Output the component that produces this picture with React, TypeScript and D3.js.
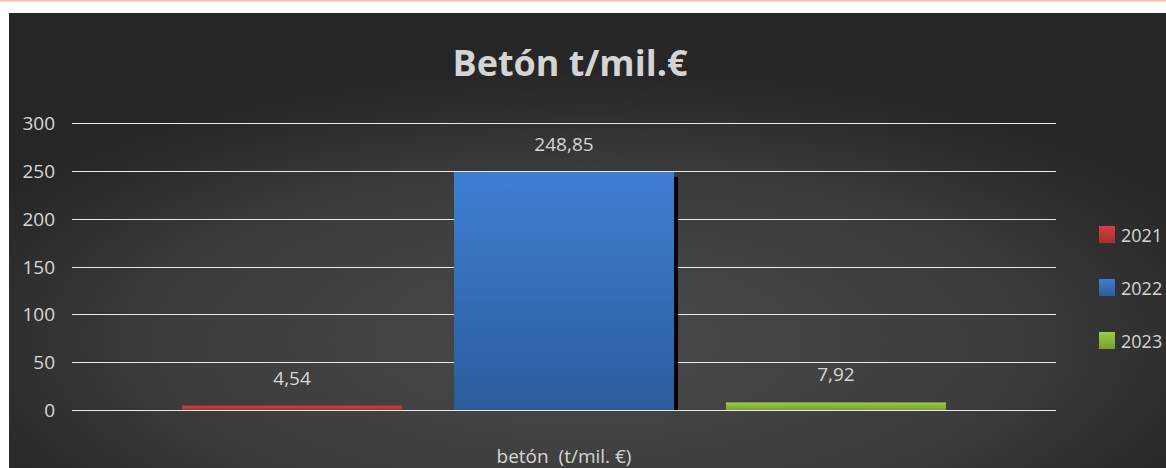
import React, { useRef, useEffect } from 'react'
import * as d3 from 'd3'

const categories = ['betón  (t/mil. €)']
const seriesNames = ['2021', '2022', '2023']
const seriesValues = [4.54, 248.85, 7.92]
const valueLabels = ['4,54', '248,85', '7,92']
const yTicks = [0, 50, 100, 150, 200, 250, 300]
const title = 'Betón t/mil.€'

const colors = [
  ['#d64040', '#a82e2e'],
  ['#3f7fd2', '#2b5c9c'],
  ['#9fcb45', '#77a02e'],
]

const FONT = "'Liberation Sans Narrow', 'Open Sans', 'Noto Sans', sans-serif"

export default function App() {
  const svgRef = useRef<SVGSVGElement>(null)
  const W = 1166
  const H = 468

  useEffect(() => {
    document.body.style.margin = '0'
    if (!svgRef.current) return
    const svg = d3.select(svgRef.current)
    svg.selectAll('*').remove()

    const defs = svg.append('defs')
    const bg = defs.append('radialGradient').attr('id', 'bg')
      .attr('cx', '0.5').attr('cy', '0.72').attr('r', '0.6')
    bg.append('stop').attr('offset', '0%').attr('stop-color', '#4a4a4a')
    bg.append('stop').attr('offset', '60%').attr('stop-color', '#3c3c3c')
    bg.append('stop').attr('offset', '100%').attr('stop-color', '#262626')

    colors.forEach((c, i) => {
      const g = defs.append('linearGradient').attr('id', `bar${i}`)
        .attr('x1', 0).attr('y1', 0).attr('x2', 0).attr('y2', 1)
      g.append('stop').attr('offset', '0%').attr('stop-color', c[0])
      g.append('stop').attr('offset', '100%').attr('stop-color', c[1])
    })

    svg.append('rect').attr('width', W).attr('height', H).attr('fill', '#ffffff')
    svg.append('rect').attr('width', W).attr('height', 1.5).attr('fill', '#f8c49c')
    svg.append('rect').attr('x', 9).attr('y', 13).attr('width', W - 9).attr('height', H - 13)
      .attr('fill', 'url(#bg)')

    const plot = { l: 72, r: 1056, t: 123, b: 410 }
    const y = d3.scaleLinear().domain([0, 300]).range([plot.b, plot.t])
    const x0 = d3.scaleBand().domain(categories).range([plot.l, plot.r]).paddingInner(0).paddingOuter(0.144)
    const x1 = d3.scaleBand().domain(seriesNames).range([0, x0.bandwidth()]).paddingInner(0.191)

    // title
    svg.append('text').attr('x', 570).attr('y', 76).attr('text-anchor', 'middle')
      .attr('font-family', FONT).attr('font-weight', 'bold').attr('font-size', 36)
      .attr('fill', '#d4d4d4').text(title)

    // grid
    svg.append('g').selectAll('line').data(yTicks).join('line')
      .attr('x1', plot.l).attr('x2', plot.r)
      .attr('y1', d => Math.round(y(d)) + 0.5).attr('y2', d => Math.round(y(d)) + 0.5)
      .attr('stroke', '#e8e8e8').attr('stroke-width', 1.2)

    svg.append('g').selectAll('text').data(yTicks).join('text')
      .attr('x', 55).attr('y', d => y(d) + 7).attr('text-anchor', 'end')
      .attr('font-family', FONT).attr('font-size', 19).attr('fill', '#d6d6d6')
      .text(d => d)

    const g = svg.append('g').attr('transform', `translate(${x0(categories[0])},0)`)
    seriesNames.forEach((s, i) => {
      const v = seriesValues[i]
      const bx = x1(s)!
      const bw = x1.bandwidth()
      const top = y(v)
      if (plot.b - top > 20) {
        g.append('rect').attr('x', bx + bw).attr('y', top + 5).attr('width', 4)
          .attr('height', plot.b - top - 5).attr('fill', '#000000')
      }
      g.append('rect').attr('x', bx).attr('y', top).attr('width', bw)
        .attr('height', plot.b - top).attr('fill', `url(#bar${i})`)
      g.append('text').attr('x', bx + bw / 2).attr('y', top - 21).attr('text-anchor', 'middle')
        .attr('font-family', FONT).attr('font-size', 19).attr('fill', '#d6d6d6')
        .text(valueLabels[i])
    })

    svg.append('text').attr('x', x0(categories[0])! + x0.bandwidth() / 2).attr('y', 463)
      .attr('text-anchor', 'middle').attr('font-family', FONT).attr('font-size', 19)
      .attr('fill', '#d6d6d6').attr('xml:space', 'preserve').style('white-space', 'pre')
      .text(categories[0])

    const leg = svg.append('g')
    seriesNames.forEach((s, i) => {
      const ly = 235 + i * 53
      leg.append('rect').attr('x', 1099).attr('y', ly - 9).attr('width', 16).attr('height', 17)
        .attr('fill', `url(#bar${i})`)
      leg.append('text').attr('x', 1121).attr('y', ly + 7)
        .attr('font-family', FONT).attr('font-size', 18).attr('fill', '#d6d6d6').text(s)
    })
  }, [])

  return <svg ref={svgRef} width={W} height={H} style={{ display: 'block' }} />
}
